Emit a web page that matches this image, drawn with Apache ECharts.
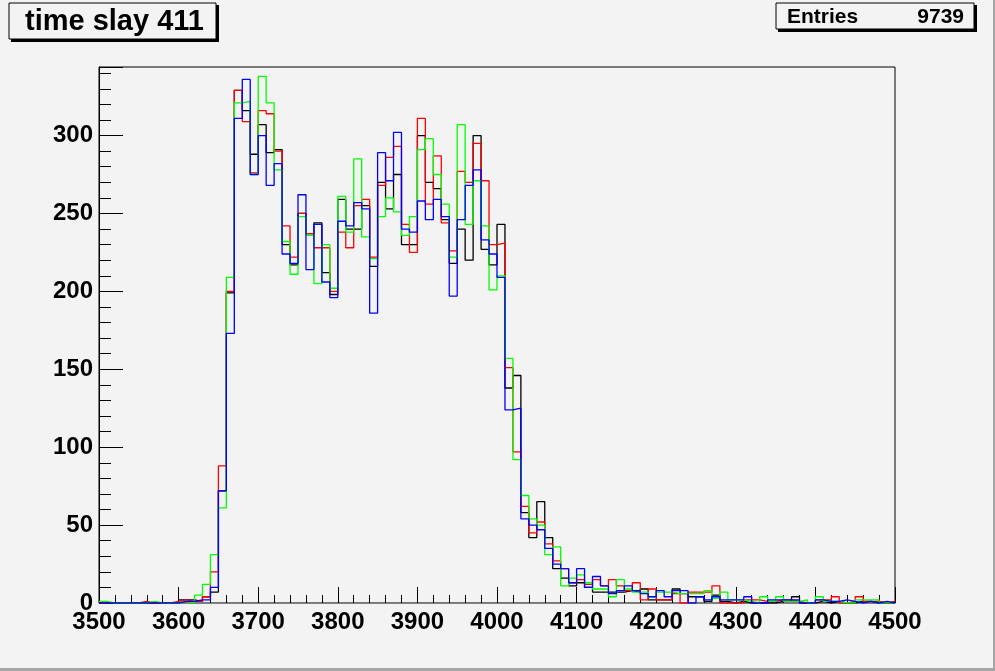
<!DOCTYPE html>
<html>
<head>
<meta charset="utf-8">
<script src="https://cdn.jsdelivr.net/npm/echarts@6/dist/echarts.min.js"></script>
<style>
html,body{margin:0;padding:0;background:#f3f3f3;}
#c{width:995px;height:671px;}
</style>
</head>
<body>
<div id="c"></div>
<script>
// Histogram bins: lower edges from 3500 to 4490, width 10
var binLow = 3500, binWidth = 10, binHigh = 4500;
var titleText = 'time slay 411';
var entriesLabel = 'Entries';
var entriesValue = '9739';
var xTicks = [3500, 3600, 3700, 3800, 3900, 4000, 4100, 4200, 4300, 4400, 4500];
var yTicks = [0, 50, 100, 150, 200, 250, 300];

var blackCounts = [
  0,0,0,0,0,0,0,0,0,0,
  2,2,1,4,7,72,199,329,316,288,
  307,289,291,230,217,250,237,244,212,198,
  259,240,240,255,216,270,253,275,230,230,
  300,270,266,246,218,240,220,300,227,217,
  243,138,146,58,42,65,42,22,16,11,
  13,10,7,7,7,7,8,7,9,2,
  2,2,9,6,4,4,1,5,1,0,
  1,0,0,0,0,1,1,4,0,0,
  1,0,1,0,0,1,1,0,0,0
];
var redCounts = [
  0,0,0,0,0,1,0,0,0,1,
  2,1,1,4,20,88,200,329,309,276,
  316,314,290,242,222,250,237,228,228,200,
  238,228,255,259,222,268,286,293,243,225,
  311,256,287,244,226,277,270,295,271,230,
  231,151,97,62,45,52,38,27,22,13,
  15,12,15,11,15,11,8,13,2,9,
  2,2,6,0,7,7,7,11,0,0,
  0,2,2,1,1,2,2,1,0,0,
  2,2,4,0,1,4,1,1,0,1
];
var greenCounts = [
  1,0,0,0,0,0,1,0,0,0,
  1,0,5,12,31,61,209,321,322,275,
  338,321,278,232,211,248,236,205,230,202,
  261,238,285,235,221,248,260,251,236,248,
  291,298,275,256,222,307,243,271,242,201,
  210,157,92,69,54,50,31,36,11,16,
  18,13,9,9,4,15,9,7,7,4,
  7,7,6,6,6,6,8,3,7,2,
  2,1,0,4,1,4,1,1,2,0,
  4,1,1,0,0,2,2,2,0,0
];
var blueCounts = [
  0,0,0,0,0,0,0,0,0,0,
  1,1,2,2,10,72,173,311,336,275,
  300,268,282,224,218,262,214,243,206,196,
  245,242,257,253,186,289,271,302,240,238,
  258,246,259,248,197,246,268,278,233,224,
  209,124,125,54,50,47,35,25,22,13,
  22,10,17,11,6,8,11,8,6,4,
  8,4,8,8,0,4,2,4,2,2,
  2,4,0,0,2,2,2,2,0,0,
  2,1,1,2,1,0,1,0,1,0
];

function toSteps(counts) {
  var pts = [];
  for (var i = 0; i < counts.length; i++) {
    pts.push([binLow + i * binWidth, counts[i]]);
  }
  pts.push([binHigh, counts[counts.length - 1]]);
  return pts;
}

function histSeries(name, counts, color, z) {
  return {
    name: name,
    type: 'line',
    step: 'end',
    symbol: 'none',
    z: z,
    clip: true,
    lineStyle: { color: color, width: 1.3 },
    data: toSteps(counts)
  };
}

var chart = echarts.init(document.getElementById('c'), null, { renderer: 'canvas' });
var font = '"Liberation Sans", Arial, Helvetica, sans-serif';

chart.setOption({
  backgroundColor: '#f3f3f3',
  animation: false,
  grid: {
    left: 99, right: 100, top: 67, bottom: 68,
    show: true, borderColor: '#000', borderWidth: 1, backgroundColor: 'transparent'
  },
  xAxis: {
    type: 'value',
    min: xTicks[0], max: xTicks[xTicks.length - 1], interval: 100,
    axisLine: { show: true, onZero: false, lineStyle: { color: '#808080', width: 1 } },
    axisTick: { show: true, inside: true, length: 16, lineStyle: { color: '#000', width: 1 } },
    minorTick: { show: true, splitNumber: 5, length: 8, lineStyle: { color: '#000', width: 1 } },
    splitLine: { show: false },
    axisLabel: {
      margin: 7, color: '#000', fontSize: 24, fontWeight: 'bold', fontFamily: font,
      formatter: function (v) { return xTicks.indexOf(v) >= 0 ? String(v) : ''; }
    }
  },
  yAxis: {
    type: 'value',
    min: 0, max: 344, interval: 50,
    axisLine: { show: true, lineStyle: { color: '#000', width: 1 } },
    axisTick: { show: true, inside: true, length: 24, lineStyle: { color: '#000', width: 1 } },
    minorTick: { show: true, splitNumber: 5, length: 12, lineStyle: { color: '#000', width: 1 } },
    splitLine: { show: false },
    axisLabel: {
      margin: 6, color: '#000', fontSize: 24, fontWeight: 'bold', fontFamily: font,
      formatter: function (v) { return yTicks.indexOf(v) >= 0 ? String(v) : ''; }
    }
  },
  series: [
    histSeries('black', blackCounts, '#000000', 2),
    histSeries('red', redCounts, '#ff0000', 3),
    histSeries('green', greenCounts, '#00ff00', 4),
    histSeries('blue', blueCounts, '#0000ff', 5)
  ],
  graphic: [
    // canvas bevel edges
    { type: 'rect', shape: { x: 993, y: 0, width: 2, height: 671 }, style: { fill: '#a6a6a6' }, silent: true },
    { type: 'rect', shape: { x: 0, y: 668, width: 995, height: 3 }, style: { fill: '#a6a6a6' }, silent: true },
    // title box
    { type: 'rect', shape: { x: 11, y: 5, width: 208, height: 37 }, style: { fill: '#000' }, silent: true },
    { type: 'rect', shape: { x: 9, y: 3, width: 207, height: 36 }, style: { fill: '#f3f3f3', stroke: '#000', lineWidth: 1 }, silent: true },
    { type: 'text', x: 25, y: 22, style: { text: titleText, fill: '#000', font: 'bold 29px ' + font, textVerticalAlign: 'middle', textAlign: 'left' }, silent: true },
    // stats box
    { type: 'rect', shape: { x: 778, y: 5, width: 199, height: 27 }, style: { fill: '#000' }, silent: true },
    { type: 'rect', shape: { x: 776, y: 3, width: 198, height: 26 }, style: { fill: '#f3f3f3', stroke: '#000', lineWidth: 1 }, silent: true },
    { type: 'text', x: 787, y: 17, style: { text: entriesLabel, fill: '#000', font: 'bold 21px ' + font, textVerticalAlign: 'middle', textAlign: 'left' }, silent: true },
    { type: 'text', x: 964, y: 17, style: { text: entriesValue, fill: '#000', font: 'bold 21px ' + font, textVerticalAlign: 'middle', textAlign: 'right' }, silent: true }
  ]
});
</script>
</body>
</html>
